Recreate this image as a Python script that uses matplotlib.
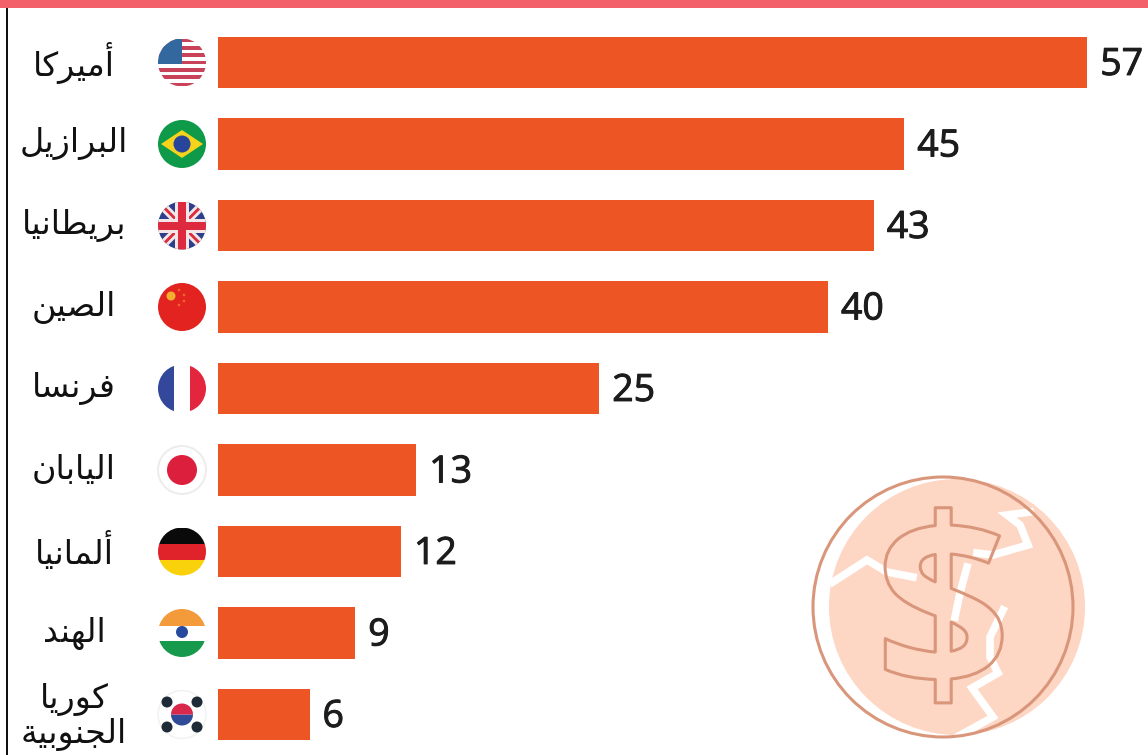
import matplotlib
matplotlib.use("Agg")
import matplotlib.pyplot as plt
import matplotlib.patheffects as pe
from matplotlib.patches import Circle, Rectangle, Polygon, Wedge

countries = ["أميركا", "البرازيل", "بريطانيا", "الصين", "فرنسا", "اليابان", "ألمانيا", "الهند", "كوريا\nالجنوبية"]
values = [57, 45, 43, 40, 25, 13, 12, 9, 6]
flags = ["us", "br", "gb", "cn", "fr", "jp", "de", "in", "kr"]

BAR_COLOR = "#EE5524"
BAND_COLOR = "#F4606A"
COIN_FILL = "#FDD6C4"
COIN_LINE = "#D9967A"

# presentation forms: isolated, final, initial, medial
FORMS = {
    "ا": (0xFE8D, 0xFE8E), "أ": (0xFE83, 0xFE84), "ة": (0xFE93, 0xFE94),
    "د": (0xFEA9, 0xFEAA), "ر": (0xFEAD, 0xFEAE), "ز": (0xFEAF, 0xFEB0),
    "و": (0xFEED, 0xFEEE),
    "ب": (0xFE8F, 0xFE90, 0xFE91, 0xFE92), "ج": (0xFE9D, 0xFE9E, 0xFE9F, 0xFEA0),
    "س": (0xFEB1, 0xFEB2, 0xFEB3, 0xFEB4), "ص": (0xFEB9, 0xFEBA, 0xFEBB, 0xFEBC),
    "ط": (0xFEC1, 0xFEC2, 0xFEC3, 0xFEC4), "ف": (0xFED1, 0xFED2, 0xFED3, 0xFED4),
    "ك": (0xFED9, 0xFEDA, 0xFEDB, 0xFEDC), "ل": (0xFEDD, 0xFEDE, 0xFEDF, 0xFEE0),
    "م": (0xFEE1, 0xFEE2, 0xFEE3, 0xFEE4), "ن": (0xFEE5, 0xFEE6, 0xFEE7, 0xFEE8),
    "ه": (0xFEE9, 0xFEEA, 0xFEEB, 0xFEEC), "ي": (0xFEF1, 0xFEF2, 0xFEF3, 0xFEF4),
}


def shape_word(word):
    # matplotlib does no Arabic shaping, so pick the forms and reverse
    out = []
    for i, ch in enumerate(word):
        forms = FORMS[ch]
        joins_prev = i > 0 and len(FORMS[word[i - 1]]) == 4
        joins_next = i < len(word) - 1 and len(forms) == 4
        if joins_prev and joins_next:
            code = forms[3]
        elif joins_prev:
            code = forms[1]
        elif joins_next:
            code = forms[2]
        else:
            code = forms[0]
        out.append(chr(code))
    return "".join(reversed(out))


def draw_flag(ov, name, cx, cy, r=24):
    clip = Circle((cx, cy), r, transform=ov.transData)

    def rect(x0, y0, x1, y1, color):
        p = Rectangle((cx + x0, cy + y0), x1 - x0, y1 - y0, color=color, lw=0)
        ov.add_patch(p)
        p.set_clip_path(clip)

    def poly(points, color):
        p = Polygon([(cx + x, cy + y) for x, y in points], color=color, lw=0)
        ov.add_patch(p)
        p.set_clip_path(clip)

    def disc(dx, dy, rad, color):
        ov.add_patch(Circle((cx + dx, cy + dy), rad, color=color, lw=0))

    if name == "us":
        rect(-24, -24, 24, 24, "#FFFFFF")
        for k in range(0, 13, 2):
            rect(-24, -24 + k * 48 / 13, 24, -24 + (k + 1) * 48 / 13, "#C8435A")
        rect(-24, -24, 0, 1, "#33689F")
    elif name == "br":
        rect(-24, -24, 24, 24, "#0E9A48")
        poly([(-21, 0), (0, -14), (21, 0), (0, 14)], "#F5D31C")
        disc(0, 0, 8.5, "#27459B")
    elif name == "gb":
        rect(-24, -24, 24, 24, "#2D3F8C")
        poly([(-24, -18), (-18, -24), (24, 18), (18, 24)], "#F4E6E6")
        poly([(24, -18), (18, -24), (-24, 18), (-18, 24)], "#F4E6E6")
        poly([(-24, -22), (-22, -24), (24, 22), (22, 24)], "#DD2A3E")
        poly([(24, -22), (22, -24), (-24, 22), (-22, 24)], "#DD2A3E")
        rect(-24, -7, 24, 7, "#F4E6E6")
        rect(-7, -24, 7, 24, "#F4E6E6")
        rect(-24, -4, 24, 4, "#DD2A3E")
        rect(-4, -24, 4, 24, "#DD2A3E")
    elif name == "cn":
        disc(0, 0, 24, "#E2231F")
        disc(-11, -11, 4.5, "#F3B02E")
        for dx, dy in [(-3, -17), (2, -12), (2, -6), (-3, -2)]:
            disc(dx, dy, 1.3, "#EE6A28")
    elif name == "fr":
        rect(-24, -24, -8, 24, "#34489B")
        rect(-8, -24, 8, 24, "#FFFFFF")
        rect(8, -24, 24, 24, "#E4253E")
    elif name == "jp":
        ov.add_patch(Circle((cx, cy), r, fc="white", ec="#EDEDED", lw=1.5))
        disc(0, 0, 15, "#DC1F3C")
    elif name == "de":
        rect(-24, -24, 24, -8, "#0A0A0A")
        rect(-24, -8, 24, 8, "#E0232A")
        rect(-24, 8, 24, 24, "#FAD20C")
    elif name == "in":
        rect(-24, -24, 24, -7, "#F39A3A")
        rect(-24, -7, 24, 8, "#FFFFFF")
        rect(-24, 8, 24, 24, "#189A4C")
        disc(0, -1, 6, "#274A9E")
    elif name == "kr":
        ov.add_patch(Circle((cx, cy), r, fc="white", ec="#F0F0F0", lw=1))
        ov.add_patch(Wedge((cx, cy), 11, 0, 180, color="#2F4A96", lw=0))
        ov.add_patch(Wedge((cx, cy), 11, 180, 360, color="#D8284B", lw=0))
        for sx in (-1, 1):
            for sy in (-1, 1):
                disc(sx * 15, sy * 12.5, 5.5, "#1F2A38")


fig = plt.figure(figsize=(11.48, 7.55), dpi=100, facecolor="white")

# bars: 15.25 px per unit, zero at x=218, rows 81.5 px apart
ax = fig.add_axes([0, 0, 1, 1])
ax.set_xlim(-218 / 15.25, (1148 - 218) / 15.25)
ax.set_ylim((755 - 62.5) / 81.5, -62.5 / 81.5)
ax.axis("off")

rows = list(range(len(values)))
ax.barh(rows, values, height=0.626, color=BAR_COLOR, zorder=3)

heavier = [pe.withStroke(linewidth=0.7, foreground="#1C1C1C")]
for row, val in zip(rows, values):
    ax.text(val + 0.85, row + 0.03, str(val), ha="left", va="center", fontsize=27,
            family="Open Sans", color="#1C1C1C", zorder=4, path_effects=heavier)

for row, name in zip(rows, countries):
    shaped = "\n".join(shape_word(w) for w in name.split("\n"))
    ax.text(-9.45, row + (0.03 if "\n" in name else 0), shaped, ha="center", va="center",
            fontsize=24, family="DejaVu Sans", color="#111111", linespacing=1.05, zorder=4)

# overlay in pixel coordinates for the decoration
ov = fig.add_axes([0, 0, 1, 1])
ov.patch.set_alpha(0)
ov.set_xlim(0, 1148)
ov.set_ylim(755, 0)
ov.axis("off")

ov.add_patch(Rectangle((0, 0), 1148, 8, color=BAND_COLOR, lw=0))
ov.add_patch(Rectangle((5.5, 8), 2, 747, color="#111111", lw=0))

for row, name in zip(rows, flags):
    cy = ov.transData.inverted().transform(ax.transData.transform((0, row)))[1]
    draw_flag(ov, name, 182, cy)

# cracked coin, lower right
coin_fill = Circle((957, 607), 128, color=COIN_FILL, lw=0, zorder=1)
ov.add_patch(coin_fill)
cracks = [
    [(833, 582), (867, 560), (887, 572), (913, 577)],
    [(977, 553), (993, 555), (1028, 545), (1020, 525), (1007, 515), (1030, 512)],
    [(967, 567), (960, 593), (955, 617)],
    [(1003, 610), (990, 637), (990, 657), (998, 673), (972, 688), (993, 717), (957, 737)],
]
for crack in cracks:
    xs, ys = zip(*crack)
    ov.plot(xs, ys, color="white", lw=5.5, solid_joinstyle="miter", zorder=2)
ov.add_patch(Circle((943, 607), 130, fc="none", ec=COIN_LINE, lw=2.2, zorder=3))
ov.text(943, 598, "$", ha="center", va="center_baseline", fontsize=172,
        family="Open Sans", weight="bold", color=(1, 1, 1, 0), parse_math=False, zorder=4,
        path_effects=[pe.Stroke(linewidth=2.2, foreground=COIN_LINE)])

fig.savefig("out.png", dpi=100)
